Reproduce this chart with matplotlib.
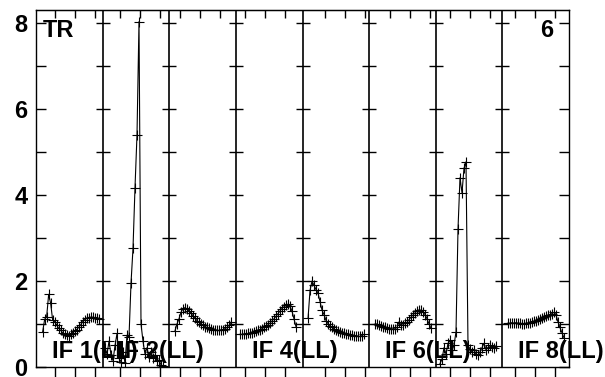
import numpy as np
import matplotlib.pyplot as plt

plt.rcParams['font.family'] = ['Liberation Sans', 'DejaVu Sans']

# amplitude per channel, one list per IF panel
if1 = [0.82, 1.11, 1.17, 1.69, 1.48, 1.09, 1.05, 0.98, 0.90, 0.85, 0.80, 0.76, 0.74, 0.73, 0.76,
       0.80, 0.83, 0.87, 0.92, 0.98, 1.05, 1.10, 1.13, 1.15, 1.16, 1.16, 1.15, 1.13, 1.11]
if2 = [0.45, 0.30, 0.60, 0.28, 0.15, 0.50, 0.78, 0.20, 0.12, 0.35, 0.10, 0.74, 0.70, 1.95, 2.76,
       4.17, 5.40, 8.03, 1.00, 0.60, 0.30, 0.45, 0.24, 0.36, 0.20, 0.28, 0.15, 0.16, 0.05, 0.02]
if3 = [0.84, 1.00, 1.12, 1.27, 1.36, 1.38, 1.35, 1.30, 1.25, 1.19, 1.13, 1.08, 1.04, 1.00, 0.97,
       0.94, 0.92, 0.90, 0.89, 0.87, 0.86, 0.85, 0.85, 0.86, 0.87, 0.89, 0.92, 0.97, 1.04]
if4 = [0.76, 0.76, 0.76, 0.77, 0.78, 0.79, 0.80, 0.82, 0.83, 0.85, 0.87, 0.89, 0.92, 0.95, 0.98,
       1.02, 1.07, 1.12, 1.18, 1.24, 1.30, 1.36, 1.40, 1.44, 1.46, 1.42, 1.30, 1.12, 0.94]
if5 = [1.13, 1.78, 2.00, 1.90, 1.80, 1.72, 1.52, 1.32, 1.22, 1.08, 1.01, 0.96, 0.92, 0.88, 0.85,
       0.83, 0.81, 0.80, 0.78, 0.77, 0.76, 0.75, 0.74, 0.73, 0.72, 0.71, 0.71, 0.73, 0.76]
if6 = [1.00, 1.00, 0.97, 0.95, 0.93, 0.92, 0.90, 0.89, 0.88, 0.88, 0.89, 0.92, 1.05, 0.97, 0.98,
       1.02, 1.04, 1.10, 1.16, 1.21, 1.26, 1.30, 1.33, 1.32, 1.28, 1.22, 1.12, 1.00, 0.90]
if7 = [0.08, 0.18, 0.45, 0.30, 0.55, 0.62, 0.40, 0.50, 0.82, 3.21, 4.40, 4.05, 4.62, 4.77, 0.50,
       0.42, 0.35, 0.40, 0.30, 0.28, 0.35, 0.45, 0.55, 0.40, 0.45, 0.50, 0.47, 0.45, 0.48]
if8 = [1.02, 1.02, 1.03, 1.02, 1.03, 1.02, 1.02, 1.01, 1.01, 1.02, 1.02, 1.03, 1.04, 1.06, 1.08,
       1.10, 1.12, 1.14, 1.16, 1.18, 1.20, 1.22, 1.24, 1.27, 1.22, 1.05, 0.92, 0.80, 0.68]
paneles = [if1, if2, if3, if4, if5, if6, if7, if8]

# primer canal de cada panel (fraccion del panel) y paso entre canales
inicio = [0.10, 0.036, 0.086, 0.062, 0.083, 0.089, 0.064, 0.084]
paso = 0.030

# marcas del eje x dentro de cada panel
marcas_x = [0.28, 0.26, 0.16, 0.14, 0.34, 0.31, 0.21, 0.19]

etiquetas_if = ['IF 1(LL)', 'IF 2(LL)', 'IF 4(LL)', 'IF 6(LL)', 'IF 8(LL)']
panel_if = [0, 1, 3, 5, 7]

fig = plt.figure(figsize=(6.05, 3.77), dpi=100)
ax = fig.add_axes([36 / 605, 10 / 377, 533 / 605, 357 / 377])

for i, y in enumerate(paneles):
    x = i + inicio[i] + paso * np.arange(len(y))
    ax.plot(x, y, color='black', linewidth=0.8, marker='+', markersize=7,
            markeredgewidth=0.8)

# separadores entre paneles con sus marcas horizontales
for i in range(1, 8):
    ax.axvline(i, color='black', linewidth=1.2, zorder=1)
    ax.plot([i] * 8, range(1, 9), linestyle='none', marker='_', markersize=9.5,
            markeredgewidth=1, color='black', clip_on=False)

for txt, p in zip(etiquetas_if, panel_if):
    ax.text(p + 0.236, 0.2, txt, fontsize=17, fontweight='bold', va='baseline',
            ha='left', clip_on=False)

ax.text(0.105, 7.67, 'TR', fontsize=17, fontweight='bold', va='baseline')
ax.text(7.76, 7.67, '6', fontsize=17, fontweight='bold', va='baseline', ha='right')

ax.set_xlim(0, 8)
ax.set_ylim(0, 8.3)

ticks = [i + m + 0.3 * k for i, m in enumerate(marcas_x) for k in range(3)]
ax.set_xticks(ticks)
ax.tick_params(axis='x', direction='out', length=8, width=1, labelbottom=False)
top = ax.secondary_xaxis('top')
top.set_xticks(ticks)
top.tick_params(direction='in', length=6, width=1, labeltop=False)

ax.set_yticks(range(0, 9))
ax.set_yticklabels([str(v) if v % 2 == 0 else '' for v in range(0, 9)],
                   fontsize=17, fontweight='bold')
ax.tick_params(axis='y', direction='in', length=7, width=1, left=True, right=True, pad=6)

for s in ax.spines.values():
    s.set_linewidth(1.0)

fig.savefig('out.png', dpi=100)
